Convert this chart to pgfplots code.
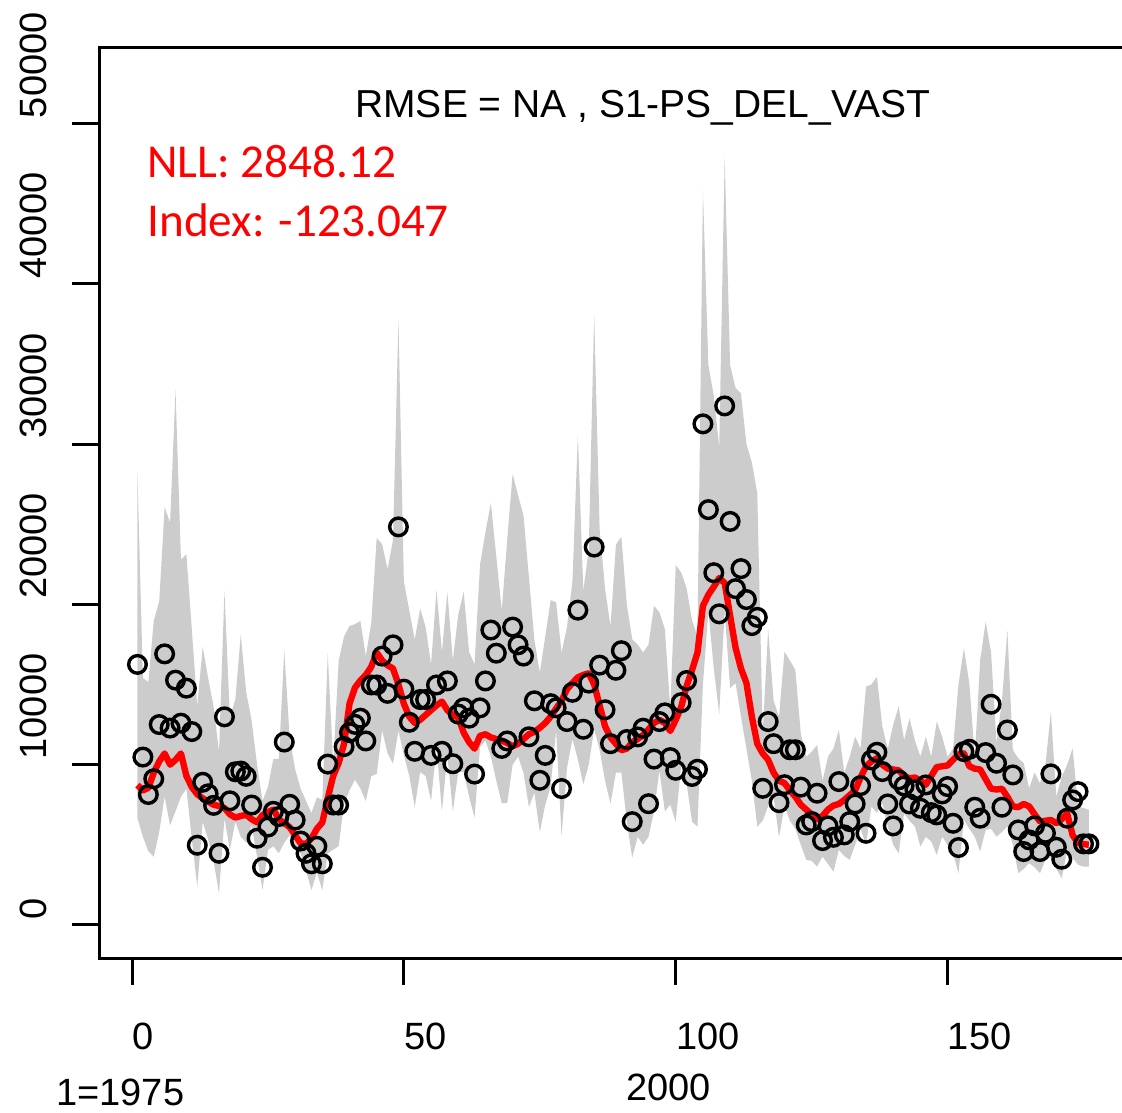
\documentclass[border=0pt]{standalone}
\usepackage{fontspec}
\setmainfont{Liberation Sans}
\newfontfamily\calib{Carlito}
\usepackage{pgfplots}
\pgfplotsset{compat=1.18}
\usepgfplotslibrary{fillbetween}
\usepackage{pgfplotstable}
\definecolor{band}{gray}{0.8}

\pgfplotstableread{
i obs est lo hi
1 16256 8730 6655 28150
2 10474 8400 5500 15400
3 8139 8550 4600 15165
4 9121 9500 4255 18980
5 12503 10200 5800 20180
6 16911 10700 8000 26075
7 12285 10000 6219 25093
8 15274 10300 7092 33370
9 12590 10700 8000 22800
10 14772 9300 8500 23130
11 12066 8600 5346 18440
12 4975 8150 2400 13640
13 8903 7900 6437 17350
14 8183 7700 5346 15400
15 7462 7500 4000 13640
16 4473 7420 1964 10800
17 12983 7300 6655 20840
18 7746 6900 4691 12980
19 9557 6700 6437 14070
20 9601 6800 5500 18110
21 9274 6870 5128 14510
22 7484 6600 6219 12765
23 5411 6400 4255 10000
24 3600 6850 2182 7746
25 6110 7050 4691 8620
26 7092 7200 4910 10365
27 6764 6600 4473 10365
28 11412 6350 5128 17130
29 7528 6100 5600 11673
30 6546 5600 4800 9710
31 5237 5100 4473 8500
32 4473 5050 3382 7746
33 3819 5400 2182 6982
34 4910 6000 3273 7964
35 3819 6400 2182 7800
36 10037 7900 4473 16911
37 7484 9300 4700 10000
38 7484 10100 4910 16475
39 11128 11300 7528 18000
40 12000 13800 8400 18656
41 12515 14800 9055 18765
42 12900 15250 8510 18970
43 11480 15600 7735 16775
44 14970 16100 9290 18840
45 14970 17000 9415 24140
46 16775 16500 12130 23750
47 14450 16200 10710 22200
48 17475 16000 10060 24010
49 24835 15000 12130 37750
50 14710 13800 10580 21430
51 12645 13000 9290 19620
52 10835 12600 7350 17810
53 14065 12800 9545 19745
54 14065 13100 9290 18585
55 10580 13400 7735 16260
56 14970 13700 11100 20910
57 10835 13935 7090 17035
58 15225 13400 10580 20780
59 10060 13100 7090 16520
60 13160 12950 9545 19360
61 13545 12000 9545 20780
62 12900 11400 8000 17035
63 9415 11000 6700 16260
64 13545 11800 11100 22460
65 15225 11900 11500 24500
66 18400 11700 10500 26335
67 16955 11600 9000 22975
68 11015 11500 7600 19620
69 11480 11350 7600 24000
70 18585 11150 10000 28140
71 17475 11300 10500 26800
72 16775 11600 9500 25560
73 11740 11900 7350 21685
74 13985 12050 8250 17810
75 9025 12300 5800 15745
76 10580 12600 7500 18000
77 13805 13000 8640 20265
78 13545 13500 12130 20135
79 8510 14000 5540 17000
80 12690 14700 9800 18585
81 14515 15100 11610 21430
82 19640 15450 10320 30595
83 12210 15600 8770 20850
84 15090 15700 10000 23410
85 23575 15000 12210 38145
86 16210 13700 10930 24690
87 13425 12400 9000 21000
88 11310 11700 7565 18615
89 15890 11300 9500 23730
90 17110 10900 9500 24215
91 11570 11000 6445 20000
92 6445 11400 4205 17810
93 11730 11600 5500 17500
94 12275 11850 5010 17000
95 7565 12200 5500 17500
96 10350 12600 7085 19910
97 12690 12800 9635 19500
98 13230 12600 7085 18470
99 10440 12100 7500 13490
100 9650 12800 6445 22450
101 13870 13600 9950 22000
102 15250 14900 8835 21010
103 9265 15900 6445 19000
104 9715 17000 6125 18000
105 31260 19900 15000 45830
106 25910 20600 19570 34940
107 21975 21100 16000 33000
108 19410 21650 13170 29815
109 32380 21330 19570 47910
110 25175 19300 14770 34940
111 20980 17300 15090 33500
112 22230 16000 13000 33175
113 20300 15100 11000 30000
114 18675 13000 9000 28855
115 19190 11300 6125 26935
116 8525 10700 6500 12000
117 12690 10300 7410 18450
118 11310 9500 8000 14000
119 7630 9000 5470 13000
120 8750 8850 7410 17055
121 10930 8400 6500 16500
122 10930 8000 6000 15910
123 8600 7500 5000 11960
124 6240 7200 4060 10500
125 6450 6900 4000 10800
126 8220 6600 3640 11230
127 5265 6800 4270 9000
128 6180 7200 3800 10500
129 5470 7450 3330 11000
130 8945 7550 4680 12170
131 5620 7800 4300 9500
132 6450 8100 4060 10500
133 7550 8400 5000 11750
134 8695 9200 6000 11000
135 5720 9900 5000 14870
136 10295 10200 7380 15000
137 10775 10400 7000 15490
138 9570 10000 7590 12380
139 7550 9750 6140 11000
140 6180 9700 5000 12500
141 9050 9650 4475 13620
142 8675 9300 6970 11540
143 7550 9150 6500 12895
144 8425 9200 6140 11500
145 7280 9000 4890 10500
146 8735 8750 5500 11750
147 7010 9300 5200 10500
148 6865 9850 4370 12690
149 8175 9900 5510 11750
150 8635 9950 5000 10500
151 6345 10300 4500 11000
152 4830 10650 3230 15000
153 10815 10700 6555 17260
154 10960 9900 6000 15080
155 7345 9750 5500 10500
156 6660 9700 4580 16535
157 10755 9100 5930 18925
158 13770 8500 6000 17000
159 10090 8450 5510 11340
160 7345 8500 5800 14000
161 12165 8000 6140 18405
162 9360 7400 5000 10920
163 5930 7350 3230 10400
164 4580 7550 3500 10090
165 5310 7400 3850 8530
166 6180 6900 3600 9500
167 4580 6450 3230 8840
168 5720 6500 4060 10000
169 9425 6550 4200 13310
170 4850 6350 3500 8010
171 4100 6600 2915 9255
172 6660 6950 4680 10000
173 7800 5600 4200 11025
174 8320 5100 3750 7390
175 5060 5050 3640 7300
176 5060 5000 3640 7180
}\datatab

\begin{document}
\begin{tikzpicture}
\begin{axis}[
  at={(0,0)}, anchor=south west,
  scale only axis, width=513.8pt, height=455pt,
  xmin=-6, xmax=183, ymin=-2060, ymax=54710,
  clip=false,
  axis line style={line width=1.5pt},
  tick align=outside, major tick length=13.5pt,
  every tick/.style={black, line width=1.5pt},
  scaled x ticks=false, scaled y ticks=false,
  xtick={0,50,100,150}, xticklabels={0,50,100,150},
  ytick={0,10000,20000,30000,40000,50000},
  yticklabels={0,10000,20000,30000,40000,50000},
  xtick pos=left, ytick pos=left,
  ticklabel style={font=\fontsize{19}{19}\selectfont, inner sep=0pt},
  xticklabel style={anchor=base west, yshift=-32pt},
  yticklabel style={xshift=-12.7pt, yshift=2.5pt, rotate=90, anchor=base west},
]
\addplot[name path=hi, draw=none, forget plot] table[x=i,y=hi]{\datatab};
\addplot[name path=lo, draw=none, forget plot] table[x=i,y=lo]{\datatab};
\addplot[fill=band, draw=none] fill between[of=hi and lo];
\addplot[red, line width=3.2pt, line join=round] table[x=i,y=est]{\datatab};
\addplot[only marks, mark=o, mark size=4.4pt, mark options={line width=1.7pt, draw=black}] table[x=i,y=obs]{\datatab};
\node[anchor=base west, inner sep=0pt, font=\fontsize{19.5}{19.5}\selectfont] at (axis cs:41,50343) {RMSE = NA , S1-PS\_DEL\_VAST};
\node[anchor=base west, inner sep=0pt, text=red, font=\calib\fontsize{23.6}{23.6}\selectfont] at (axis cs:2.76,46600) {NLL: 2848.12};
\node[anchor=base west, inner sep=0pt, text=red, font=\calib\fontsize{23.6}{23.6}\selectfont] at (axis cs:2.76,42980) {Index: -123.047};
\node[anchor=base west, inner sep=0pt, font=\fontsize{19}{19}\selectfont] at (axis cs:-13.98,-11290) {1=1975};
\node[anchor=base west, inner sep=0pt, font=\fontsize{19}{19}\selectfont] at (axis cs:90.86,-10980) {2000};
\end{axis}
\pgfresetboundingbox
\path[use as bounding box] (-49.7pt,-77pt) rectangle (511.3pt,479pt);
\end{tikzpicture}
\end{document}
